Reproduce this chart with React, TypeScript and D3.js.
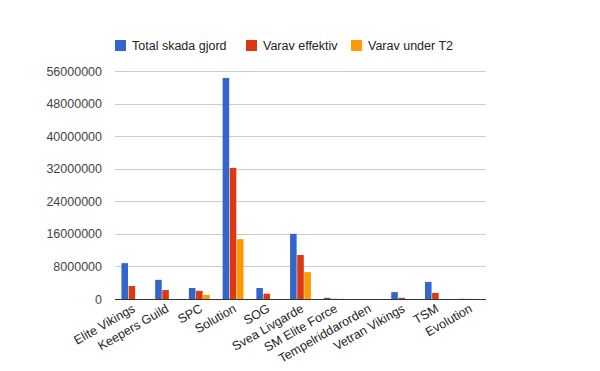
import React, { useEffect, useRef } from "react";
import * as d3 from "d3";

const categories = [
  "Elite Vikings",
  "Keepers Guild",
  "SPC",
  "Solution",
  "SOG",
  "Svea Livgarde",
  "SM Elite Force",
  "Tempelriddarorden",
  "Vetran Vikings",
  "TSM",
  "Evolution",
];
const seriesNames = ["Total skada gjord", "Varav effektiv", "Varav under T2"];
const totalSkada = [8800000, 4700000, 2700000, 54300000, 2700000, 16000000, 300000, 0, 1700000, 4200000, 50000];
const varavEffektiv = [3200000, 2200000, 2000000, 32200000, 1300000, 10800000, 60000, 0, 300000, 1500000, 20000];
const varavUnderT2 = [0, 0, 1000000, 14700000, 0, 6600000, 20000, 0, 0, 0, 10000];
const yTicks = [0, 8000000, 16000000, 24000000, 32000000, 40000000, 48000000, 56000000];
const colors = ["#3366cc", "#dc3912", "#ff9900"];

const App = () => {
  const ref = useRef<HTMLDivElement>(null);

  useEffect(() => {
    d3.select(ref.current).selectAll("*").remove();
    const width = 600;
    const height = 371;
    const left = 115;
    const right = 486;
    const top = 71;
    const bottom = 299;
    const font = "Arial, 'Liberation Sans', sans-serif";

    const svg = d3
      .select(ref.current)
      .append("svg")
      .attr("width", width)
      .attr("height", height)
      .style("display", "block");

    svg.append("rect").attr("width", width).attr("height", height).attr("fill", "#fff");

    const x = d3.scaleBand().domain(categories).range([left, right]).paddingInner(0.382).paddingOuter(0.191);
    const x1 = d3.scaleBand().domain(seriesNames).range([0, x.bandwidth()]).paddingInner(0.08);
    const y = d3.scaleLinear().domain([0, 56000000]).range([bottom, top]);

    // gridlines
    svg
      .selectAll(".grid")
      .data(yTicks.slice(1))
      .enter()
      .append("line")
      .attr("x1", left)
      .attr("x2", right)
      .attr("y1", (d) => Math.round(y(d)) + 0.5)
      .attr("y2", (d) => Math.round(y(d)) + 0.5)
      .attr("stroke", "#cccccc");

    // y labels
    svg
      .selectAll(".ylab")
      .data(yTicks)
      .enter()
      .append("text")
      .attr("x", 102)
      .attr("y", (d) => y(d) + 4.5)
      .attr("text-anchor", "end")
      .attr("font-family", font)
      .attr("font-size", 12.5)
      .attr("fill", "#444")
      .text((d) => String(d));

    const series = [totalSkada, varavEffektiv, varavUnderT2];
    series.forEach((vals, si) => {
      svg
        .append("g")
        .selectAll("rect")
        .data(vals)
        .enter()
        .append("rect")
        .attr("x", (_, i) => (x(categories[i]) as number) + (x1(seriesNames[si]) as number))
        .attr("y", (d) => y(d))
        .attr("width", x1.bandwidth())
        .attr("height", (d) => bottom - y(d))
        .attr("fill", colors[si]);
    });

    // baseline
    svg
      .append("line")
      .attr("x1", left)
      .attr("x2", right)
      .attr("y1", bottom + 0.5)
      .attr("y2", bottom + 0.5)
      .attr("stroke", "#333");

    // x labels
    svg
      .selectAll(".xlab")
      .data(categories)
      .enter()
      .append("text")
      .attr("transform", (d) => {
        const cx = (x(d) as number) + x.bandwidth() / 2 + 4;
        return `translate(${cx},${bottom + 12}) rotate(-30)`;
      })
      .attr("text-anchor", "end")
      .attr("font-family", font)
      .attr("font-size", 12.5)
      .attr("fill", "#222")
      .text((d) => d);

    // legend
    const legendX = [115, 246, 351];
    seriesNames.forEach((name, i) => {
      svg
        .append("rect")
        .attr("x", legendX[i])
        .attr("y", 40)
        .attr("width", 11)
        .attr("height", 11)
        .attr("fill", colors[i]);
      svg
        .append("text")
        .attr("x", legendX[i] + 17)
        .attr("y", 50)
        .attr("font-family", font)
        .attr("font-size", 12.5)
        .attr("fill", "#222")
        .text(name);
    });
  }, []);

  return <div ref={ref} style={{ margin: -8 }}></div>;
};

export default App;
